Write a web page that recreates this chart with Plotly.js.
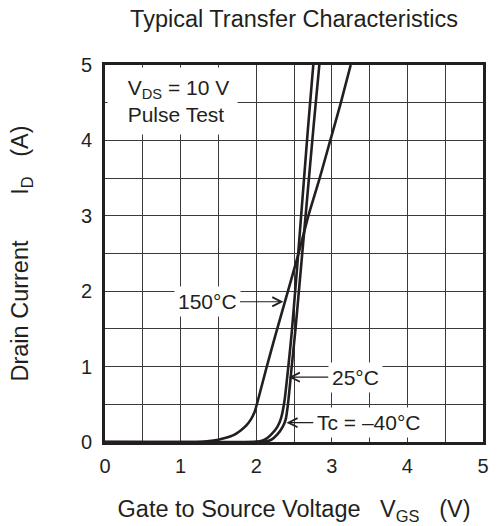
<!DOCTYPE html>
<html>
<head>
<meta charset="utf-8">
<script src="https://cdn.plot.ly/plotly-3.0.1.min.js"></script>
<style>html,body{margin:0;padding:0;background:#fff;}#chart{width:498px;height:526px;}</style>
</head>
<body>
<div id="chart"></div>
<script>
// Gate-source voltage (V) and drain current (A)
const vgs150 = [0, 1.2, 1.35, 1.5, 1.6, 1.7, 1.79, 1.87, 1.93, 1.98, 2.03, 2.14, 2.25, 2.42, 2.56, 2.69, 2.84, 2.98, 3.12, 3.25];
const id150  = [0, 0, 0.01, 0.03, 0.055, 0.09, 0.15, 0.22, 0.3, 0.4, 0.58, 1.0, 1.4, 2.0, 2.5, 3.0, 3.5, 4.0, 4.5, 5.0];
const vgs25  = [0, 1.95, 2.05, 2.13, 2.2, 2.28, 2.33, 2.375, 2.425, 2.47, 2.54, 2.61, 2.68, 2.755];
const id25   = [0, 0, 0.01, 0.04, 0.1, 0.2, 0.32, 0.55, 1.0, 1.45, 2.3, 3.2, 4.1, 5.0];
const vgsM40 = [0, 2.05, 2.12, 2.2, 2.28, 2.35, 2.39, 2.42, 2.47, 2.52, 2.6, 2.68, 2.76, 2.835];
const idM40  = [0, 0, 0.005, 0.03, 0.1, 0.2, 0.3, 0.5, 1.0, 1.5, 2.4, 3.3, 4.2, 5.0];
const xTicks = [0, 1, 2, 3, 4, 5];
const yTicks = [0, 1, 2, 3, 4, 5];

const ink = '#231f20';
const FONT = 'Liberation Sans, Arial, Helvetica, sans-serif';
const lineStyle = {color: ink, width: 2.6, shape: 'spline', smoothing: 0.5};
const sp = n => '\u00a0'.repeat(n);

const traces = [
  {x: vgs150, y: id150, mode: 'lines', line: lineStyle, name: '150°C', hoverinfo: 'skip'},
  {x: vgs25, y: id25, mode: 'lines', line: lineStyle, name: '25°C', hoverinfo: 'skip'},
  {x: vgsM40, y: idM40, mode: 'lines', line: lineStyle, name: '-40°C', hoverinfo: 'skip'}
];

const arrowBase = {
  showarrow: true, arrowhead: 5, arrowsize: 1.5, arrowwidth: 1.2, arrowcolor: ink,
  axref: 'x', ayref: 'y', bgcolor: '#ffffff', borderpad: 3,
  font: {family: FONT, size: 21, color: ink}
};

const layout = {
  width: 498, height: 526,
  margin: {l: 105, r: 15, t: 65, b: 84},
  paper_bgcolor: '#ffffff', plot_bgcolor: '#ffffff',
  showlegend: false,
  font: {family: FONT, color: ink, size: 20},
  title: {
    text: 'Typical Transfer Characteristics',
    font: {family: FONT, size: 23.5, color: ink},
    x: 0.5, xref: 'paper', y: 1 - 19/526, yref: 'container', yanchor: 'middle'
  },
  xaxis: {
    range: [0, 5], tickvals: xTicks, ticktext: xTicks.map(String),
    showgrid: true, gridcolor: '#3a3a3a', gridwidth: 1,
    minor: {dtick: 0.5, showgrid: true, gridcolor: '#3a3a3a', gridwidth: 1},
    showline: true, mirror: true, linecolor: ink, linewidth: 3,
    zeroline: false, ticks: '', ticklabelstandoff: 4,
    tickfont: {family: FONT, size: 20, color: ink},
    title: {text: 'Gate to Source Voltage' + sp(3) + 'V<sub>GS</sub>' + sp(3) + '(V)', font: {family: FONT, size: 23.5, color: ink}, standoff: 25}
  },
  yaxis: {
    range: [0, 5], tickvals: yTicks, ticktext: yTicks.map(String),
    showgrid: true, gridcolor: '#3a3a3a', gridwidth: 1,
    minor: {dtick: 0.5, showgrid: true, gridcolor: '#3a3a3a', gridwidth: 1},
    showline: true, mirror: true, linecolor: ink, linewidth: 3,
    zeroline: false, ticks: '', ticklabelstandoff: 6,
    tickfont: {family: FONT, size: 20, color: ink},
    title: {text: 'Drain Current' + sp(7) + 'I<sub>D</sub>' + sp(3) + '(A)', font: {family: FONT, size: 23.5, color: ink}, standoff: 46}
  },
  annotations: [
    {
      text: sp(2) + 'V<sub>DS</sub> = 10 V<br>' + sp(2) + 'Pulse Test', align: 'left',
      xref: 'x', yref: 'y', x: 0.03, y: 4.97, xanchor: 'left', yanchor: 'top',
      showarrow: false, bgcolor: '#ffffff', borderpad: 8,
      font: {family: FONT, size: 21, color: ink}
    },
    Object.assign({}, arrowBase, {text: '150°C', x: 2.36, y: 1.86, ax: 1.35, ay: 1.86}),
    Object.assign({}, arrowBase, {text: '25°C', x: 2.43, y: 0.86, ax: 3.31, ay: 0.86}),
    Object.assign({}, arrowBase, {text: 'Tc = \u201340°C', x: 2.40, y: 0.256, ax: 3.49, ay: 0.256})
  ]
};

Plotly.newPlot('chart', traces, layout, {displayModeBar: false, staticPlot: true});
</script>
</body>
</html>
